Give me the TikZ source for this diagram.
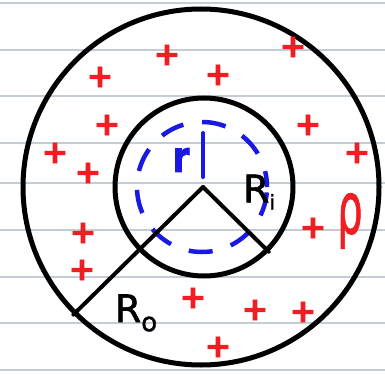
\documentclass[tikz,border=0pt]{standalone}
\usepackage{fontspec}
\setmainfont{DejaVu Sans}
\newfontfamily\heavyfont[FakeBold=2.5]{DejaVu Sans Bold}
\newfontfamily\markerfont[FakeBold=1.5]{DejaVu Sans}
\definecolor{ruleblue}{RGB}{196,205,214}
\definecolor{chargered}{RGB}{240,30,35}
\definecolor{gaussblue}{RGB}{25,25,225}
\tikzset{
  paperrule/.style={draw=ruleblue, line width=1.1pt},
  ring/.style={circle, draw=black, line width=5pt, inner sep=0pt},
  gauss/.style={circle, draw=gaussblue, line width=4.5pt, inner sep=0pt, dash pattern=on 24pt off 19pt, dash phase=8pt},
  radiusline/.style={draw=black, line width=4pt, line cap=round},
  gaussline/.style={draw=gaussblue, line width=4pt, line cap=round},
  charge/.style={text=chargered, inner sep=0pt, font=\fontsize{32}{32}\heavyfont},
  lbl/.style={inner sep=0pt, font=\fontsize{38}{38}\markerfont}
}
\begin{document}
\begin{tikzpicture}[x=1pt,y=-1pt]
\fill[white] (0,0) rectangle (385,374);
\useasboundingbox (0,0) rectangle (385,374);
\foreach \yy in {3,50,96,143,183,230,277,323,370}
  \draw[paperrule] (0,\yy) -- (385,\yy);
% circles
\node[ring, minimum size=356pt] (outer) at (201,187) {};
\node[ring, minimum size=178pt] (inner) at (204,187) {};
\node[gauss, minimum size=130pt] (gsurf) at (202,187) {};
% radii
\coordinate (ctr) at (203,187);
\draw[radiusline] (ctr) -- (inner.-45);
\draw[radiusline] (ctr) -- (outer.225);
% gaussian radius
\coordinate (rtop) at (203,133);
\coordinate (rbot) at (203,177);
\draw[gaussline] (rtop) -- (rbot);
\node[text=gaussblue, inner sep=0pt, font=\fontsize{34}{34}\heavyfont, yscale=1.25] (rlbl) at (181,160) {r};
% labels
\node[lbl] (Ri) at (259,192) {R\raisebox{-7pt}{\fontsize{20}{20}\selectfont i}};
\node[lbl] (Ro) at (136,313) {R\raisebox{-9pt}{\fontsize{26}{26}\selectfont o}};
\node[text=chargered, inner sep=0pt, font=\fontsize{72}{72}\markerfont, xscale=0.55] (rho) at (350,221) {ρ};
% charges
\foreach \cx/\cy [count=\i] in {100/77,167/55,218/75,293/47,107/125,55/153,88/173,308/125,357/153,83/233,82/270,313/228,193/298,255/310,303/312,218/347}
  \node[charge] (q\i) at (\cx,\cy) {+};
\end{tikzpicture}
\end{document}
